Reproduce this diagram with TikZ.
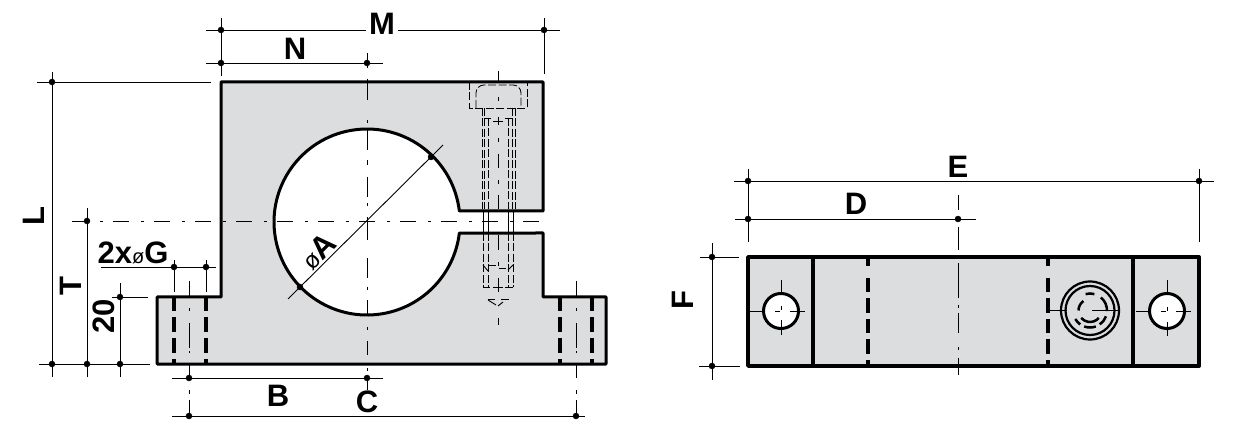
\documentclass[tikz,border=0pt]{standalone}
\usepackage{fontspec}
\setmainfont{Liberation Sans}
\definecolor{partgray}{HTML}{DCDDDF}
\tikzset{
    outline/.style={black, line width=3pt, line join=round},
    sideoutline/.style={black, line width=3.8pt, line join=round},
    holeline/.style={black, line width=3pt},
    heavydash/.style={black, line width=3.6pt, dash pattern=on 14.5pt off 6pt},
    dimline/.style={black, line width=0.9pt},
    centerline/.style={black, line width=0.8pt, dash pattern=on 16pt off 12pt on 3pt off 10pt},
    footcenter/.style={black, line width=0.8pt, dash pattern=on 16pt off 11pt on 3pt off 12pt on 25pt off 3pt on 2pt off 11pt on 14pt off 12pt on 4pt off 6pt on 16pt},
    borecenter/.style={black, line width=0.8pt, dash pattern=on 21pt off 20pt on 3pt off 7pt on 20pt off 10pt on 5pt off 12pt on 20pt off 6pt on 3pt off 11pt on 23pt off 18pt on 20pt off 9pt on 3pt off 10pt on 15pt off 12pt on 3pt off 11pt on 14pt off 13pt on 3pt off 7pt on 12pt off 50pt},
    screwcenter/.style={black, line width=0.8pt, dash pattern=on 12pt off 14pt on 4pt off 16pt on 8pt off 13pt on 4pt off 12pt on 14pt off 12pt on 4pt off 11pt on 14pt off 26pt on 15pt off 12pt on 4pt off 12pt on 14pt off 26pt on 7pt off 50pt},
    sidecenter/.style={black, line width=0.8pt, dash pattern=on 15pt off 17pt on 23pt off 13pt on 35pt off 7pt on 3pt off 5pt on 20pt off 14pt on 3pt off 8pt on 17pt off 50pt},
    hidden/.style={black, line width=0.85pt, dash pattern=on 8pt off 2.5pt},
    ringline/.style={black, line width=2.2pt},
    ringdash/.style={black, line width=2.5pt},
    dimdot/.style={black},
    dimlabel/.style={font=\fontsize{31}{31}\selectfont\bfseries, inner sep=0pt},
}
\begin{document}
\begin{tikzpicture}[x=1pt, y=-1pt]
        \useasboundingbox (0,0) rectangle (1236,435);

        \filldraw[outline, fill=partgray] (157,364) -- (157,297) -- (221,297) -- (221,82) -- (543,82) -- (543,211) -- (459.35,211)
            arc[start angle=-6.8, end angle=-353.2, radius=93] -- (543,233) -- (543,297) -- (606,297) -- (606,364) -- cycle;

        \draw[heavydash] (174,297) -- (174,364);
        \draw[heavydash] (206,297) -- (206,364);
        \draw[heavydash] (560,297) -- (560,364);
        \draw[heavydash] (592,297) -- (592,364);

        \draw[borecenter] (367,79) -- (367,390);
        \draw[centerline] (72,221) -- (542,221);
        \draw[footcenter] (189,281) -- (189,416);
        \draw[footcenter] (576,281) -- (576,416);
        \draw[screwcenter] (498,71) -- (498,325);

        \draw[hidden] (476,108) -- (476,93) arc[start angle=180, end angle=270, radius=8] -- (513,85) arc[start angle=270, end angle=360, radius=8] -- (521,108);
        \draw[hidden] (469.5,82) -- (469.5,108) -- (527,108) -- (527,82);
        \draw[hidden] (482,108) -- (482,209);
        \draw[hidden] (484,108) -- (484,209);
        \draw[hidden] (488,118) -- (488,209);
        \draw[hidden] (508,118) -- (508,209);
        \draw[hidden] (512.5,108) -- (512.5,209);
        \draw[hidden] (515,108) -- (515,209);
        \draw[dimline] (484,118) -- (491,118);
        \draw[dimline] (505,118) -- (512.5,118);
        \draw[dimline] (493,121) -- (503,121);
        \draw[dimline] (483,211) -- (483,233);
        \draw[dimline] (488,211) -- (488,233);
        \draw[dimline] (508,211) -- (508,233);
        \draw[dimline] (513,211) -- (513,233);
        \draw[hidden] (483,233) -- (483,287);
        \draw[hidden] (488,233) -- (488,287);
        \draw[hidden] (508,233) -- (508,287);
        \draw[hidden] (513,233) -- (513,287);
        \draw[dimline] (483,265) -- (488,271);
        \draw[dimline] (488,265) -- (496,265);
        \draw[dimline] (499,268) -- (506,268);
        \draw[dimline] (508,270) -- (513,265);
        \draw[dimline] (483,287) -- (490,287);
        \draw[dimline] (493,287) -- (503,287);
        \draw[dimline] (505,287) -- (513,287);
        \draw[dimline] (488,299) -- (495,299);
        \draw[dimline] (501,299) -- (509,299);
        \draw[dimline] (488,300) -- (496,305);
        \draw[dimline] (498,306) -- (503,302);

        \draw[dimline] (206,30) -- (366,30);
        \draw[dimline] (398,30) -- (560,30);
        \draw[dimline] (206,63) -- (383,63);
        \draw[dimline] (221,18) -- (221,76);
        \draw[dimline] (544,18) -- (544,74);
        \draw[dimline] (367,53) -- (367,68);
        \draw[dimline] (37,82) -- (211,82);
        \draw[dimline] (39,364) -- (150,364);
        \draw[dimline] (52,72) -- (52,377);
        \draw[dimline] (87,208) -- (87,377);
        \draw[dimline] (120,283) -- (120,377);
        \draw[dimline] (112,297) -- (148,297);
        \draw[dimline] (101,267) -- (216,267);
        \draw[dimline] (174,260) -- (174,292);
        \draw[dimline] (206,260) -- (206,292);
        \draw[dimline] (172,378) -- (383,378);
        \draw[dimline] (172,416) -- (585,416);
        \draw[dimline] (288,299) -- (443,145);

        \filldraw[dimdot] (221,30) circle (3pt);
        \filldraw[dimdot] (544,30) circle (3pt);
        \filldraw[dimdot] (221,63) circle (3pt);
        \filldraw[dimdot] (367,63) circle (3pt);
        \filldraw[dimdot] (52,82) circle (3pt);
        \filldraw[dimdot] (52,364) circle (3pt);
        \filldraw[dimdot] (87,221) circle (3pt);
        \filldraw[dimdot] (87,364) circle (3pt);
        \filldraw[dimdot] (120,297) circle (3pt);
        \filldraw[dimdot] (120,364) circle (3pt);
        \filldraw[dimdot] (174,267) circle (3pt);
        \filldraw[dimdot] (206,267) circle (3pt);
        \filldraw[dimdot] (189,378) circle (3pt);
        \filldraw[dimdot] (367,378) circle (3pt);
        \filldraw[dimdot] (189,416) circle (3pt);
        \filldraw[dimdot] (576,416) circle (3pt);
        \filldraw[dimdot] (300,287) circle (3pt);
        \filldraw[dimdot] (431,157) circle (3pt);

        \node[dimlabel] (labelM) at (382,24) {M};
        \node[dimlabel] (labelN) at (295,49) {N};
        \node[dimlabel, rotate=90] (labelL) at (34,216) {L};
        \node[dimlabel, rotate=90] (labelT) at (71,286) {T};
        \node[dimlabel, rotate=90] (labelH) at (104,316) {20};
        \node[dimlabel] (labelG) at (133,253) {2x{\fontsize{20}{20}\selectfont\mdseries ø}G};
        \node[dimlabel] (labelB) at (278,396) {B};
        \node[dimlabel] (labelC) at (367,402) {C};
        \node[dimlabel, rotate=45] (labelA) at (318,251) {{\fontsize{24}{24}\selectfont\mdseries ø}A};

        \filldraw[sideoutline, fill=partgray] (748,257) rectangle (1199,366);
        \draw[sideoutline] (813,257) -- (813,366);
        \draw[sideoutline] (1133,257) -- (1133,366);
        \draw[black, line width=3.6pt] (868,257) -- (868,266);
        \draw[heavydash] (868,278) -- (868,366);
        \draw[black, line width=3.6pt] (1048,257) -- (1048,266);
        \draw[heavydash] (1048,278) -- (1048,366);
        \draw[sidecenter] (958,195) -- (958,375);

        \filldraw[holeline, fill=white] (781,311) circle (17.5pt);
        \filldraw[holeline, fill=white] (1167,311) circle (17.5pt);
        \draw[dimline] (749,311) -- (765,311);
        \draw[dimline] (775,311) -- (780,311);
        \draw[dimline] (790,311) -- (805,311);
        \draw[dimline] (781,280) -- (781,294);
        \draw[dimline] (781,306) -- (781,310);
        \draw[dimline] (781,320) -- (781,335);
        \draw[dimline] (1136,311) -- (1150,311);
        \draw[dimline] (1161,311) -- (1166,311);
        \draw[dimline] (1176,311) -- (1191,311);
        \draw[dimline] (1167,280) -- (1167,294);
        \draw[dimline] (1167,307) -- (1167,311);
        \draw[dimline] (1167,322) -- (1167,336);

        \draw[ringline] (1090,310.5) circle (29pt);
        \draw[ringline] (1090,310.5) circle (24.5pt);
        \draw[ringdash] (1090,310.5) ++(255:17) arc[start angle=255, end angle=285, radius=17];
        \draw[ringdash] (1090,310.5) ++(310:17) arc[start angle=310, end angle=362, radius=17];
        \draw[ringdash] (1090,310.5) ++(20:17) arc[start angle=20, end angle=55, radius=17];
        \draw[ringdash] (1090,310.5) ++(70:17) arc[start angle=70, end angle=110, radius=17];
        \draw[ringdash] (1090,310.5) ++(125:17) arc[start angle=125, end angle=150, radius=17];
        \draw[ringdash] (1090,310.5) ++(180:11.5) arc[start angle=180, end angle=235, radius=11.5];
        \draw[ringdash] (1090,310.5) ++(40:11.5) arc[start angle=40, end angle=140, radius=11.5];
        \draw[dimline] (1050,310.5) -- (1067,310.5);
        \draw[dimline] (1092,310.5) -- (1120,310.5);

        \draw[dimline] (734,181) -- (1214,181);
        \draw[dimline] (735,219) -- (976,219);
        \draw[dimline] (748,169) -- (748,242);
        \draw[dimline] (1199,169) -- (1199,242);
        \draw[dimline] (712,243) -- (712,380);
        \draw[dimline] (700,257) -- (739,257);
        \draw[dimline] (699,366) -- (740,366);

        \filldraw[dimdot] (748,181) circle (3pt);
        \filldraw[dimdot] (1199,181) circle (3pt);
        \filldraw[dimdot] (748,219) circle (3pt);
        \filldraw[dimdot] (958,219) circle (3pt);
        \filldraw[dimdot] (712,257) circle (3pt);
        \filldraw[dimdot] (712,366) circle (3pt);

        \node[dimlabel] (labelE) at (958,167) {E};
        \node[dimlabel] (labelD) at (856,204) {D};
        \node[dimlabel, rotate=90] (labelF) at (683,300) {F};
    \end{tikzpicture}
\end{document}
